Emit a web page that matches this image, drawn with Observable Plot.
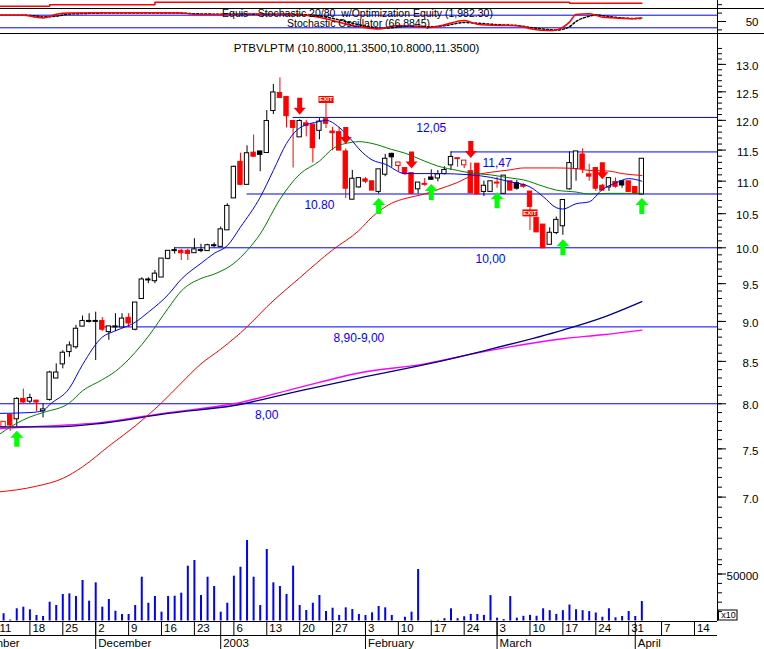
<!DOCTYPE html>
<html>
<head>
<meta charset="utf-8">
<script src="https://cdn.jsdelivr.net/npm/d3@7"></script>
<script src="https://cdn.jsdelivr.net/npm/@observablehq/plot@0.6"></script>
<style>
  html, body { margin: 0; padding: 0; background: #ffffff; }
  #chart { position: relative; width: 764px; height: 649px; overflow: hidden; background: #ffffff; }
  #chart svg { position: absolute; left: 0; top: 0; }
</style>
</head>
<body>
<div id="chart"></div>
<script>
// ---------------- DATA (trading-day index 1..98 = 12 Nov 2002 .. 2 Apr 2003) ----------------
const opens = [7.74,7.87,7.83,8.05,8.03,8.03,7.92,8.05,8.30,8.47,
 8.62,8.68,8.94,9.00,9.00,9.00,8.87,8.93,8.93,9.04,
 8.90,9.30,9.55,9.54,9.59,9.85,9.96,9.95,9.95,9.93,
 9.96,9.96,10.03,10.02,10.26,10.74,11.30,10.95,11.45,11.47,
 11.46,12.17,12.47,12.40,11.98,11.72,11.94,11.92,11.83,12.01,
 11.80,11.79,11.47,10.72,10.91,11.02,10.99,10.84,11.11,11.43,
 11.25,11.20,11.12,10.88,10.95,11.05,11.05,11.12,11.26,11.36,
 11.26,11.15,11.27,10.84,10.84,10.97,10.81,10.99,10.96,10.93,
 10.83,10.43,10.33,10.05,10.22,10.32,10.88,11.20,11.42,11.10,
 11.20,10.92,10.91,10.98,10.99,10.99,10.90,10.80];
const highs = [7.79,7.87,8.07,8.17,8.11,8.04,8.00,8.38,8.47,8.63,
 8.74,8.95,9.07,9.10,9.12,9.05,8.93,9.10,9.10,9.10,
 9.24,9.58,9.58,9.68,9.84,9.96,10.00,9.98,9.98,10.13,
 10.05,10.05,10.07,10.30,10.65,11.24,11.45,11.57,11.75,11.47,
 12.17,12.63,12.75,12.40,11.98,12.01,12.00,11.92,12.03,12.04,
 11.88,11.88,11.52,11.17,11.04,11.06,10.99,11.18,11.43,11.45,
 11.29,11.20,11.12,10.97,11.04,11.18,11.17,11.23,11.47,11.36,
 11.32,11.29,11.27,11.00,10.99,11.06,11.08,10.99,11.01,10.96,
 10.83,10.43,10.33,10.29,10.45,10.70,11.47,11.47,11.52,11.27,
 11.20,10.95,11.04,11.05,11.01,10.99,10.90,11.35];
const lows = [7.74,7.69,7.74,8.00,8.00,7.91,7.84,8.03,8.30,8.41,
 8.55,8.65,8.93,8.98,8.51,8.87,8.76,8.87,8.93,8.92,
 8.88,9.30,9.50,9.50,9.59,9.83,9.91,9.82,9.82,9.93,
 9.93,9.95,10.00,10.02,10.26,10.74,10.93,10.95,11.38,11.15,
 11.46,12.10,12.40,11.87,11.21,11.72,11.72,11.29,11.67,11.86,
 11.49,11.50,10.73,10.71,10.89,10.96,10.86,10.80,11.07,11.22,
 11.15,11.09,10.79,10.80,10.92,11.02,10.99,11.10,11.17,11.22,
 11.20,10.80,10.80,10.76,10.84,10.89,10.81,10.86,10.86,10.89,
 10.25,10.23,10.00,10.05,10.19,10.18,10.86,11.00,11.12,11.00,
 10.84,10.86,10.84,10.89,10.89,10.82,10.81,10.80];
const closes = [7.79,7.76,8.05,8.02,8.06,8.02,7.93,8.36,8.36,8.60,
 8.69,8.90,9.00,9.00,9.00,8.90,8.93,8.93,9.03,8.98,
 9.24,9.55,9.55,9.63,9.84,9.95,9.96,9.93,9.92,9.97,
 9.96,10.03,10.03,10.26,10.61,11.22,10.95,11.44,11.40,11.43,
 11.98,12.48,12.40,12.08,11.88,11.98,11.91,11.54,11.97,11.95,
 11.79,11.50,10.89,11.03,11.04,11.00,10.86,11.18,11.35,11.39,
 11.29,11.12,10.81,10.97,10.95,11.03,11.10,11.17,11.38,11.36,
 11.32,10.82,10.80,10.92,10.99,10.97,11.08,10.86,10.89,10.92,
 10.61,10.23,10.00,10.21,10.40,10.70,11.28,11.47,11.20,11.08,
 10.89,10.86,11.04,10.92,10.94,10.84,10.81,11.35];
// r = red (down vs previous close), k = black
const candleColors = "rrkrkrkkkk" + "kkkkkrkkkr" + "kkkkkkkrrk" + "kkkkkkrkrk" + "kkrrrkrrkr" +
                     "rrrkkrrkkk" + "rrrkrkkkkr" + "rrrkkrkrkr" + "rrrkkkkkrr" + "rrkrkrrk";
const volumes = [7700,1000,13000,14700,11900,5900,4800,20000,16500,28200,
 28900,26100,43100,21100,40600,14700,22900,10400,6900,6900,
 16500,46600,18900,26100,9400,26100,26400,29600,58300,64400,
 27100,46600,36700,9400,18900,47700,57200,85600,46600,16500,
 76100,40600,36700,28200,58300,16500,11200,18900,27100,10100,
 13600,5900,14000,12200,6900,5900,8700,15400,14000,5900,
 0,4000,9400,54800,0,600,600,2500,13000,2500,
 4500,7000,7000,6000,27000,3000,1500,26000,3000,5000,
 6000,5000,13000,11000,7000,11000,17000,12000,11000,10000,
 8500,4000,13000,3400,4800,10100,4800,20700];

// moving averages, read at bar indices
const blueI = [0,5,7,8,11,13,16,18,21,23,26,28,31,33,35,37,40,42,44,46,49,50,52,54,55,57,59,62,67,72,75,78,81,83,85,86,88,90,92,94,96,98];
const blueV = [7.89,7.90,7.92,7.99,8.18,8.46,8.80,8.88,8.99,9.12,9.35,9.56,9.78,9.92,10.03,10.30,10.75,11.17,11.61,11.87,11.98,12.00,11.88,11.65,11.52,11.34,11.27,11.12,11.12,11.10,11.06,10.99,10.91,10.76,10.59,10.57,10.65,10.68,10.87,10.97,11.04,11.00];
const greenI = [0,3,5,7,11,13,16,18,21,23,26,28,31,33,36,38,40,43,46,49,51,54,55,57,60,62,65,67,70,72,75,78,80,83,85,88,90,93,98];
const greenV = [7.64,7.78,7.85,7.90,8.01,8.15,8.28,8.38,8.61,8.81,9.17,9.40,9.57,9.63,9.78,9.96,10.20,10.72,11.11,11.32,11.52,11.63,11.64,11.61,11.51,11.45,11.32,11.24,11.17,11.13,11.10,11.05,11.02,10.92,10.86,10.83,10.80,10.81,10.81];
const redI = [0,6,10,13,17,21,25,28,31,34,38,41,46,51,55,57,60,62,65,67,70,72,75,78,80,85,88,90,93,95,98];
const redV = [7.05,7.11,7.19,7.31,7.53,7.75,8.01,8.24,8.47,8.65,8.93,9.19,9.58,9.97,10.25,10.45,10.66,10.73,10.80,10.87,10.98,11.08,11.14,11.18,11.21,11.21,11.20,11.17,11.16,11.12,11.09];
const navyI = [0,9,16,26,36,46,55,65,74,86,92,98];
const navyV = [7.74,7.74,7.78,7.89,7.98,8.15,8.30,8.46,8.63,8.89,9.05,9.26];
const magentaI = [0,5,16,26,36,46,55,65,74,86,92,98];
const magentaV = [7.72,7.74,7.79,7.90,8.00,8.19,8.36,8.47,8.62,8.78,8.83,8.89];

// support / resistance levels
const levelValues = [12.05, 11.47, 10.80, 10.00, 8.93, 8.00];
const levelLabels = ["12,05", "11,47", "10.80", "10,00", "8,90-9,00", "8,00"];
const levelStart = [45, 69, 38, 27, 16, 0];
const levelLabelAt = [66, 76, 49, 75, 55, 41];

// system signals
const buyDays = [3, 58, 66, 76, 86, 98];
const sellDays = [46, 53, 63, 72, 92];
const exitAboveDays = [50];
const exitBelowDays = [81];

// stochastic panel
const stochI = [0,4,6,7,9,11,20,28,30,33,38,44,48,51,54,56,58,60,61,63,66,68,71,73,76,79,81,84,85,87,88,90,91,92,94,96,98];
const stochK = [80,80,70,67,85,91,92,91,84,83,86,84,75,55,30,20,14,27,31,27,22,35,55,37,31,30,16,7,10,47,83,87,80,70,67,63,67];
const stochD = [80,80,76,72,75,86,91,90,87,85,84,85,80,65,42,28,18,20,24,28,25,30,45,42,35,31,22,11,9,25,50,75,82,78,70,65,64];
const stochBands = [80, 20];
const equityI = [0, 8, 24, 87, 98];
const equityV = [1870, 1922, 2020, 1982.3, 1982.3];

// axes
const dayTickI = [0,5,10,15,20,25,30,36,41,46,51,56,61,66,71,76,81,86,91,96,101,106];
const dayTickLabels = ["11","18","25","2","9","16","23","6","13","20","27","3","10","17","24","3","10","17","24","31","7","14"];
const monthI = [-5, 15, 34, 56, 76, 97];
const monthLabels = ["November", "December", "2003", "February", "March", "April"];
const priceMajor = [7.0, 7.5, 8.0, 8.5, 9.0, 9.5, 10.0, 10.5, 11.0, 11.5, 12.0, 12.5, 13.0];
const volTicks = [10000, 20000, 30000, 40000, 50000, 60000];
const volLabelTicks = [50000];
const stochTicks = [10, 50, 90, 130];
const stochLabelTicks = [50];
const topTitle = "Equis - Stochastic 20/80  w/Optimization Equity (1,982.30)";
const stochTitle = "Stochastic Oscillator (66.8845)";
const priceTitle = "PTBVLPTM (10.8000,11.3500,10.8000,11.3500)";

// ---------------- RENDERING ----------------
const AXIS_I = 109.5;
const FONT = "'Liberation Sans', Arial, Helvetica, sans-serif";
const RED = "#ff0000", BLACK = "#000000", BLUE = "#0000ff", GREEN = "#008000",
      NAVY = "#000080", MAGENTA = "#ff00ff", LIME = "#00ff00";
const chart = document.getElementById("chart");

function layer(options) {
  const svg = Plot.plot({
    width: 764, height: 649,
    marginTop: 0, marginRight: 0, marginBottom: 0, marginLeft: 0,
    x: {domain: [0, AXIS_I], range: [-3.5, 717], axis: null},
    color: {type: "identity"},
    style: {background: "transparent", overflow: "hidden", fontFamily: FONT},
    ...options
  });
  chart.appendChild(svg);
}

const series = (I, V) => I.map((i, k) => ({i, v: V[k]}));
const candles = opens.map((o, k) => ({
  i: k + 1, open: o, high: highs[k], low: lows[k], close: closes[k],
  color: candleColors[k] === "r" ? RED : BLACK
}));
const byDay = new Map(candles.map(d => [d.i, d]));
const levels = levelValues.map((v, k) => ({v, label: levelLabels[k], start: levelStart[k], at: levelLabelAt[k]}));
const volBars = volumes.map((v, k) => ({i: k + 1, v}));
const dayTicks = dayTickI.map((i, k) => ({i, label: dayTickLabels[k]}));
const months = monthI.map((i, k) => ({i, label: monthLabels[k]}));
const priceMinor = d3.range(64, 134).map(t => t / 10);

const downArrow = {draw(c) {
  c.moveTo(0, 0); c.lineTo(6, -7); c.lineTo(2.5, -7); c.lineTo(2.5, -17);
  c.lineTo(-2.5, -17); c.lineTo(-2.5, -7); c.lineTo(-6, -7); c.closePath();
}};
const upArrow = {draw(c) {
  c.moveTo(0, 0); c.lineTo(6.5, 7); c.lineTo(2.5, 7); c.lineTo(2.5, 16);
  c.lineTo(-2.5, 16); c.lineTo(-2.5, 7); c.lineTo(-6.5, 7); c.closePath();
}};
const exitAboveSym = {draw(c) {
  c.moveTo(-0.5, 0); c.lineTo(0.5, 0); c.lineTo(0.5, -15); c.lineTo(-0.5, -15); c.closePath();
  c.rect(-7.5, -22, 15, 7);
}};
const exitBelowSym = {draw(c) { c.rect(-7.5, 3, 15, 7); }};

const axisX = () => AXIS_I;

// volume panel
layer({
  y: {domain: [0, 50000], range: [620.5, 573.5], axis: null},
  marks: [
    Plot.ruleX(volBars, {x: "i", y1: () => 0, y2: "v", stroke: BLUE, strokeWidth: 2}),
    Plot.ruleY(volTicks, {y: d => d, x1: axisX, x2: axisX, insetRight: -5, stroke: BLACK}),
    Plot.ruleY(volLabelTicks, {y: d => d, x1: axisX, x2: axisX, insetRight: -9, stroke: BLACK}),
    Plot.text(volLabelTicks, {y: d => d, x: axisX, text: d => String(d), dx: 41, dy: 2, textAnchor: "end", fontSize: 11.5, fill: BLACK})
  ]
});

// price panel
layer({
  y: {type: "log", domain: [7, 13], range: [496.6, 63.9], axis: null},
  marks: [
    Plot.ruleY(levels, {y: "v", x1: "start", x2: axisX, stroke: BLUE}),
    Plot.text(levels, {x: "at", y: "v", text: "label", dy: 11, fill: BLUE, fontSize: 12}),
    Plot.ruleX(candles, {x: "i", y1: "low", y2: "high", stroke: "color"}),
    Plot.rect(candles, {
      x1: d => d.i - 0.33, x2: d => d.i + 0.33, y1: "open", y2: "close",
      fill: d => d.close < d.open ? d.color : "#ffffff", stroke: "color",
      insetTop: -0.5, insetBottom: -0.5
    }),
    Plot.line(series(magentaI, magentaV), {x: "i", y: "v", stroke: MAGENTA, strokeWidth: 1.3, curve: "monotone-x"}),
    Plot.line(series(navyI, navyV), {x: "i", y: "v", stroke: NAVY, strokeWidth: 1.3, curve: "monotone-x"}),
    Plot.line(series(redI, redV), {x: "i", y: "v", stroke: RED, strokeWidth: 1, curve: "monotone-x"}),
    Plot.line(series(greenI, greenV), {x: "i", y: "v", stroke: GREEN, strokeWidth: 1, curve: "monotone-x"}),
    Plot.line(series(blueI, blueV), {x: "i", y: "v", stroke: BLUE, strokeWidth: 1, curve: "monotone-x"}),
    Plot.dot(sellDays.map(i => byDay.get(i)), {x: "i", y: "high", symbol: downArrow, fill: RED, stroke: "none", dy: -5}),
    Plot.dot(buyDays.map(i => byDay.get(i)), {x: "i", y: "low", symbol: upArrow, fill: LIME, stroke: "none", dy: 4}),
    Plot.dot(exitAboveDays.map(i => byDay.get(i)), {x: "i", y: "high", symbol: exitAboveSym, fill: RED, stroke: "none"}),
    Plot.text(exitAboveDays.map(i => byDay.get(i)), {x: "i", y: "high", text: () => "EXIT", dy: -18.5, fill: "#ffffff", fontSize: 6, fontWeight: "bold"}),
    Plot.dot(exitBelowDays.map(i => byDay.get(i)), {x: "i", y: "close", symbol: exitBelowSym, fill: RED, stroke: "none"}),
    Plot.text(exitBelowDays.map(i => byDay.get(i)), {x: "i", y: "close", text: () => "EXIT", dy: 6.5, fill: "#ffffff", fontSize: 6, fontWeight: "bold"}),
    Plot.ruleY(priceMinor, {y: d => d, x1: axisX, x2: axisX, insetRight: -5, stroke: BLACK}),
    Plot.ruleY(priceMajor, {y: d => d, x1: axisX, x2: axisX, insetRight: -9, stroke: BLACK}),
    Plot.text(priceMajor, {y: d => d, x: axisX, text: d => d.toFixed(1), dx: 41, dy: 2, textAnchor: "end", fontSize: 11.5, fill: BLACK})
  ]
});

// stochastic panel
layer({
  y: {domain: [0, 100], range: [31.5, 10.5], axis: null},
  marks: [
    Plot.ruleY(stochBands, {y: d => d, x1: () => 0, x2: axisX, stroke: BLUE}),
    Plot.line(series(stochI, stochD), {x: "i", y: "v", stroke: BLACK, strokeDasharray: "2,2", curve: "monotone-x"}),
    Plot.line(series(stochI, stochK), {x: "i", y: "v", stroke: RED, curve: "monotone-x"}),
    Plot.ruleY(stochTicks, {y: d => d, x1: axisX, x2: axisX, insetRight: -5, stroke: BLACK}),
    Plot.ruleY(stochLabelTicks, {y: d => d, x1: axisX, x2: axisX, insetRight: -9, stroke: BLACK}),
    Plot.text(stochLabelTicks, {y: d => d, x: axisX, text: d => String(d), dx: 41, dy: 1, textAnchor: "end", fontSize: 11.5, fill: BLACK})
  ]
});

// equity line
layer({
  y: {domain: [1770, 2085], range: [8.3, 0], axis: null},
  marks: [
    Plot.line(series(equityI, equityV), {x: "i", y: "v", stroke: RED, curve: "step-after"})
  ]
});

// frame, time axis and titles
layer({
  y: {domain: [0, 649], range: [0, 649], axis: null},
  marks: [
    Plot.ruleY([8, 33], {y: d => d, stroke: BLACK}),
    Plot.ruleY([621, 635], {y: d => d, x1: () => 0, x2: axisX, stroke: BLACK}),
    Plot.ruleX([AXIS_I], {x: d => d, y1: () => 0, y2: () => 621, stroke: BLACK}),
    Plot.rect([0], {x1: axisX, x2: axisX, y1: () => 610, y2: () => 620, insetLeft: 1.5, insetRight: -20, fill: "none", stroke: BLACK}),
    Plot.text(["x10"], {x: axisX, y: () => 615, text: d => d, dx: 11, fontSize: 9, fill: BLACK}),
    Plot.ruleX(dayTicks, {x: "i", y1: () => 621, y2: () => 635, stroke: BLACK}),
    Plot.text(dayTicks, {x: "i", y: () => 628, text: "label", textAnchor: "start", dx: 2.5, fontSize: 11.5, fill: BLACK}),
    Plot.ruleX(months.filter(d => d.i >= 0), {x: "i", y1: () => 621, y2: () => 649, stroke: BLACK}),
    Plot.text(months, {x: "i", y: () => 643, text: "label", textAnchor: "start", dx: 2.5, fontSize: 11.5, fill: BLACK}),
    Plot.text([topTitle], {frameAnchor: "top-left", text: d => d, dx: 357, dy: 9, textAnchor: "middle", fontSize: 10.5, fill: BLACK}),
    Plot.text([stochTitle], {frameAnchor: "top-left", text: d => d, dx: 358, dy: 19.5, textAnchor: "middle", fontSize: 10.5, fill: BLACK}),
    Plot.text([priceTitle], {frameAnchor: "top-left", text: d => d, dx: 356, dy: 43, textAnchor: "middle", fontSize: 11.5, fill: BLACK})
  ]
});
</script>
</body>
</html>
